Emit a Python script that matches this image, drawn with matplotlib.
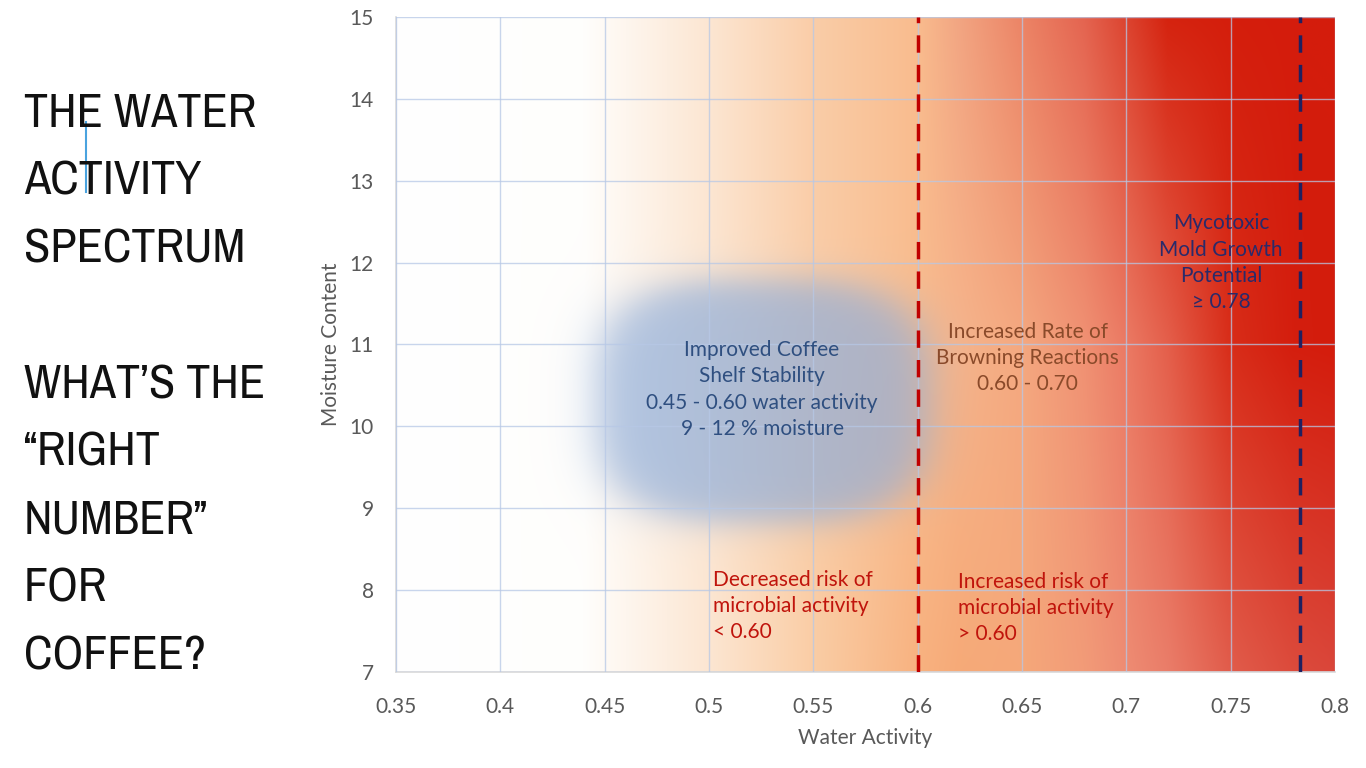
import numpy as np
import matplotlib
matplotlib.use("Agg")
import matplotlib.pyplot as plt
import matplotlib.font_manager as fm

# ── Data ──
x_ticks = [0.35, 0.4, 0.45, 0.5, 0.55, 0.6, 0.65, 0.7, 0.75, 0.8]
x_tick_labels = ["0.35", "0.4", "0.45", "0.5", "0.55", "0.6", "0.65", "0.7", "0.75", "0.8"]
y_ticks = [7, 8, 9, 10, 11, 12, 13, 14, 15]

browning_threshold = 0.60
mycotoxin_threshold = 0.783

# shelf-stable zone (water activity, moisture)
stable_aw = (0.437, 0.615)
stable_mc = (8.65, 11.95)

title_lines = ["THE WATER", "ACTIVITY", "SPECTRUM", "", "WHAT\u2019S THE",
               "\u201cRIGHT", "NUMBER\u201d", "FOR", "COFFEE?"]

# background colour stops along water activity, for three moisture rows
grad_aw = [0.35, 0.44, 0.50, 0.55, 0.60, 0.62, 0.65, 0.68, 0.70, 0.72, 0.75, 0.78, 0.80]
grad_top = [(255, 255, 255), (255, 254, 252), (252, 230, 210), (250, 205, 168), (249, 188, 142),
            (242, 165, 130), (236, 132, 102), (228, 100, 80), (220, 68, 48), (213, 35, 15),
            (212, 30, 12), (212, 28, 12), (212, 28, 12)]
grad_mid = [(255, 255, 255), (255, 254, 252), (252, 230, 210), (250, 205, 168), (249, 188, 142),
            (247, 180, 138), (244, 168, 128), (240, 145, 115), (235, 122, 100), (228, 95, 75),
            (216, 45, 25), (212, 30, 14), (212, 28, 12)]
grad_bot = [(255, 255, 255), (255, 254, 252), (252, 230, 210), (250, 205, 165), (248, 178, 128),
            (246, 170, 120), (245, 168, 122), (242, 155, 120), (238, 140, 115), (234, 125, 105),
            (225, 92, 75), (220, 75, 60), (218, 70, 58)]
grad_mc = [15, 11, 7]

# ── Colours ──
GRID = "#B7C8E6"
TICK = "#595959"
RED_LINE = "#C00000"
NAVY_LINE = "#1F2060"

plt.rcParams["font.family"] = ["Lato", "DejaVu Sans"]


def narrow_family():
    """Look for an installed condensed / narrow face for the slide title."""
    for key in ("narrow", "condensed", "cond"):
        for f in fm.fontManager.ttflist:
            if key in f.name.lower() or key in f.fname.lower():
                return f.name
    return "Roboto"


fig = plt.figure(figsize=(13.66, 7.68), dpi=100)
ax = fig.add_axes([0.2899, 0.125, 0.6874, 0.8529])

# ── Background gradient ──
nx, ny = 900, 400
xs = np.linspace(0.35, 0.8, nx)
ys = np.linspace(7, 15, ny)
rows = []
for stops in (grad_top, grad_mid, grad_bot):
    arr = np.array(stops, dtype=float) / 255.0
    rows.append(np.stack([np.interp(xs, grad_aw, arr[:, c]) for c in range(3)], axis=-1))
rows = np.array(rows)[::-1]  # ascending moisture
mc_asc = grad_mc[::-1]
img = np.empty((ny, nx, 3))
for c in range(3):
    for i in range(nx):
        img[:, i, c] = np.interp(ys, mc_asc, rows[:, i, c])

# shelf-stability blob (soft rounded rectangle)
X, Y = np.meshgrid(xs, ys)
cx, cy = sum(stable_aw) / 2, sum(stable_mc) / 2
a, b = (stable_aw[1] - stable_aw[0]) / 2, (stable_mc[1] - stable_mc[0]) / 2
r = (np.abs((X - cx) / a) ** 3.0 + np.abs((Y - cy) / b) ** 3.0) ** (1 / 3.0)
mask = 0.68 / (1 + np.exp((r - 0.90) / 0.07))
blue = np.array([140, 172, 218]) / 255.0
img = img * (1 - mask[..., None]) + blue * mask[..., None]

ax.imshow(img, extent=[0.35, 0.8, 7, 15], origin="lower", aspect="auto",
          interpolation="bilinear", zorder=0)

# ── Grid & axes ──
ax.set_xlim(0.35, 0.8)
ax.set_ylim(7, 15)
ax.set_xticks(x_ticks)
ax.set_xticklabels(x_tick_labels)
ax.set_yticks(y_ticks)
ax.grid(True, color=GRID, linewidth=1.0, alpha=0.75, zorder=1)
ax.set_axisbelow(False)
ax.tick_params(length=0, labelsize=15, labelcolor=TICK)
ax.tick_params(axis="x", pad=18)
ax.tick_params(axis="y", pad=16)
for s in ["top", "right"]:
    ax.spines[s].set_visible(False)
for s in ["left", "bottom"]:
    ax.spines[s].set_color("#D9D9D9")
    ax.spines[s].set_linewidth(1.2)

ax.set_xlabel("Water Activity", fontsize=15, color=TICK, labelpad=8)
ax.set_ylabel("Moisture Content", fontsize=15, color=TICK, labelpad=6)

# ── Threshold lines ──
ax.axvline(browning_threshold, color=RED_LINE, linewidth=2.5, linestyle=(0, (5, 3.5)), zorder=3)
ax.axvline(mycotoxin_threshold, color=NAVY_LINE, linewidth=2.5, linestyle=(0, (5, 3.5)), zorder=3)

# ── Annotations ──
kw = dict(va="center", fontsize=15, linespacing=1.38, zorder=4)
ax.text(0.5254, 10.45, "Improved Coffee\nShelf Stability\n0.45 - 0.60 water activity\n9 - 12 % moisture",
        ha="center", color="#2F4F80", **kw)
ax.text(0.6528, 10.84, "Increased Rate of\nBrowning Reactions\n0.60 - 0.70",
        ha="center", color="#8A4A2A", **kw)
ax.text(0.7453, 12.0, "Mycotoxic\nMold Growth\nPotential\n\u2265 0.78",
        ha="center", color="#2A2A6A", **kw)
ax.text(0.5019, 7.81, "Decreased risk of\nmicrobial activity\n< 0.60",
        ha="left", color="#C0140C", **kw)
ax.text(0.6193, 7.78, "Increased risk of\nmicrobial activity\n> 0.60",
        ha="left", color="#C0140C", **kw)

# ── Left title ──
fam = [narrow_family(), "DejaVu Sans"]
renderer = fig.canvas.get_renderer()
probe = fig.text(0, 0, title_lines[0], fontsize=40, family=fam, fontweight="medium")
w = probe.get_window_extent(renderer).width
probe.remove()
title_size = 40 * 232 / w

y0 = 127
for i, line in enumerate(title_lines):
    if not line:
        continue
    fig.text(24 / 1366, 1 - (y0 + i * 67.8) / 768, line, ha="left", va="baseline",
             fontsize=title_size, color="#111111", family=fam, fontweight="medium")
# text cursor
fig.add_artist(plt.Line2D([86 / 1366, 86 / 1366], [1 - 122 / 768, 1 - 192 / 768],
                          color="#4AA3DF", linewidth=1.5))

fig.savefig("out.png", dpi=100)
